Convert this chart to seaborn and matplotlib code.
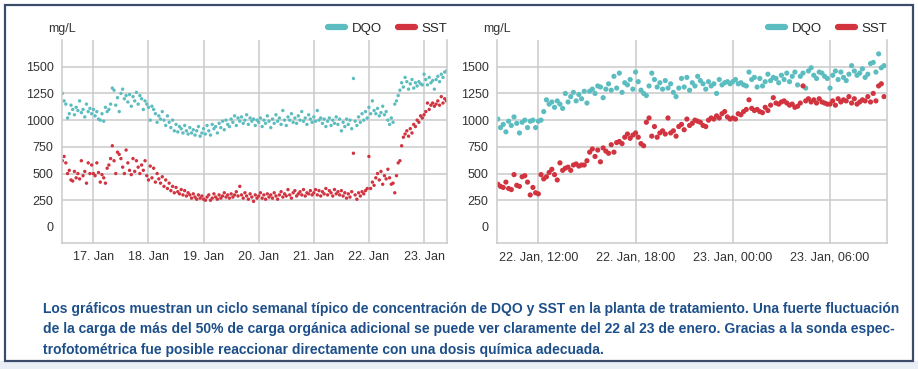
import matplotlib.pyplot as plt
import matplotlib.dates as mdates
from matplotlib.lines import Line2D
from matplotlib.patches import Rectangle
import pandas as pd
import seaborn as sns

# colours
TEAL = "#5cbdc0"
RED = "#d1333f"
GRID = "#cacaca"
TEXT = "#333333"
CAPTION = "#1d4f8a"

# Left panel: one week, one sample every 45 min starting 16 Jan 10:30
week_start = "2023-01-16 10:30"
week_dqo = [
    1250, 1180, 1150, 1020, 1060, 1140, 1100, 1050, 1120, 1090, 1180, 1070, 1100, 1030, 1150, 1080, 1110, 1060,
    # 17 Jan
    1100, 1040, 1080, 1010, 1000, 1060, 990, 1120, 1080, 1100, 1150, 1300, 1280, 1140, 1210, 1080,
    1250, 1290, 1200, 1230, 1170, 1240, 1130, 1220, 1180, 1260, 1150, 1230, 1200, 1100, 1180, 1150,
    # 18 Jan
    1120, 1000, 1130, 1100, 1060, 980, 1040, 1010, 1080, 1000, 950, 1040, 980, 930, 1000, 900,
    960, 890, 940, 920, 880, 950, 900, 870, 930, 880, 910, 860, 900, 940, 850, 880,
    # 19 Jan
    920, 870, 950, 900, 860, 960, 920, 940, 880, 970, 930, 990, 910, 1000, 960, 940,
    1010, 980, 1040, 950, 1020, 990, 1030, 970, 1000, 1050, 960, 1020, 990, 1010, 950, 1000,
    # 20 Jan
    980, 1020, 940, 1000, 970, 1040, 990, 930, 1010, 970, 1050, 990, 1020, 960, 1090, 1000,
    950, 1030, 1000, 1060, 980, 1020, 970, 1040, 1000, 1080, 990, 1020, 960, 1050, 1010, 980,
    # 21 Jan
    1030, 990, 1090, 1000, 1020, 970, 1010, 940, 990, 1020, 950, 1000, 970, 1030, 960, 1010,
    900, 980, 940, 1010, 960, 1000, 920, 1390, 990, 950, 1030, 980, 1060, 1000, 1080, 1020,
    # 22 Jan
    1120, 1060, 1180, 1090, 1060, 1110, 1040, 1070, 1130, 1050, 1080, 1000, 960, 1020, 980, 1150,
    1180, 1230, 1280, 1350, 1310, 1400, 1360, 1290, 1340, 1380, 1300, 1350, 1320, 1360, 1340, 1330,
    # 23 Jan
    1430, 1380, 1330, 1400, 1350, 1370, 1290, 1380, 1410, 1360, 1430, 1400, 1450, 1460,
]
week_sst = [
    620, 660, 600, 500, 530, 440, 430, 520, 460, 500, 450, 620, 480, 520, 410, 600, 500, 580,
    # 17 Jan
    500, 480, 600, 510, 420, 490, 460, 410, 550, 580, 640, 760, 620, 500, 700, 680,
    640, 560, 500, 720, 600, 530, 490, 640, 520, 620, 560, 500, 580, 530, 620, 480,
    # 18 Jan
    440, 570, 460, 550, 420, 500, 450, 410, 470, 380, 440, 360, 410, 340, 380, 320,
    370, 330, 310, 350, 300, 340, 290, 320, 300, 270, 310, 280, 260, 300, 270, 290,
    # 19 Jan
    260, 250, 280, 300, 250, 270, 310, 280, 260, 300, 270, 290, 320, 280, 300, 270,
    310, 280, 300, 330, 290, 380, 300, 270, 320, 290, 260, 310, 280, 240, 300, 270,
    # 20 Jan
    290, 320, 270, 300, 260, 310, 280, 300, 270, 320, 290, 260, 300, 330, 280, 310,
    290, 350, 300, 270, 320, 340, 290, 310, 330, 300, 350, 290, 320, 310, 340, 300,
    # 21 Jan
    320, 350, 300, 340, 290, 330, 310, 360, 300, 340, 320, 290, 350, 310, 330, 300,
    340, 290, 320, 270, 310, 280, 330, 690, 300, 260, 320, 290, 330, 310, 340, 360,
    # 22 Jan
    660, 360, 420, 390, 460, 500, 440, 520, 400, 480, 450, 540, 460, 400, 410, 320,
    480, 600, 620, 760, 840, 870, 900, 850, 920, 880, 960, 940, 1000, 980, 1040, 1020,
    # 23 Jan
    1050, 1080, 1160, 1100, 1140, 1160, 1130, 1150, 1180, 1140, 1220, 1160, 1200, 1180,
]

# Right panel: 24 h, one sample every 10 min starting 22 Jan 09:30
day_start = "2023-01-22 09:30"
day_dqo = [
    1010, 930, 960,
    890, 990, 950, 1030, 970, 880,
    980, 1000, 930, 990, 1000, 930,
    990, 1000, 1080, 1190, 1150, 1170,
    1120, 1180, 1150, 1110, 1250, 1170,
    1220, 1260, 1180, 1240, 1200, 1270,
    1160, 1270, 1290, 1250, 1320, 1310,
    1210, 1290, 1340, 1280, 1410, 1300,
    1440, 1260, 1350, 1330, 1380, 1290,
    1450, 1360, 1280, 1250, 1230, 1320,
    1440, 1380, 1310, 1350, 1290, 1370,
    1300, 1340, 1260, 1220, 1300, 1390,
    1310, 1400, 1280, 1350, 1320, 1410,
    1370, 1340, 1290, 1360, 1320, 1340,
    1250, 1380, 1330, 1350, 1360, 1340,
    1360, 1380, 1340, 1350, 1330, 1320,
    1450, 1380, 1400, 1310, 1390, 1320,
    1360, 1430, 1370, 1400, 1390, 1350,
    1420, 1380, 1440, 1360, 1410, 1450,
    1330, 1410, 1440, 1300, 1460, 1490,
    1420, 1390, 1450, 1440, 1410, 1390,
    1300, 1420, 1460, 1380, 1450, 1400,
    1370, 1430, 1510, 1460, 1420, 1440,
    1480, 1400, 1430, 1530, 1540, 1450,
    1620, 1490, 1510,
]
day_sst = [
    400, 380, 370,
    420, 360, 350, 490, 390, 380,
    470, 480, 420, 300, 370, 320,
    310, 490, 450, 470, 510, 540,
    490, 440, 600, 530, 550, 560,
    530, 580, 590, 570, 580, 580,
    620, 700, 730, 660, 720, 610,
    740, 710, 690, 770, 700, 790,
    800, 780, 840, 870, 830, 860,
    880, 840, 780, 760, 980, 1020,
    850, 940, 840, 880, 900, 870,
    1020, 880, 900, 850, 940, 960,
    910, 1010, 950, 970, 1000, 990,
    980, 950, 940, 1000, 1020, 1010,
    1040, 1020, 1060, 1080, 1030, 1010,
    1020, 1010, 1060, 1050, 1080, 1100,
    1190, 1110, 1090, 1100, 1080, 1070,
    1120, 1090, 1140, 1210, 1160, 1150,
    1170, 1180, 1160, 1140, 1150, 1120,
    1130, 1160, 1320, 1180, 1200, 1170,
    1190, 1160, 1200, 1170, 1160, 1150,
    1150, 1180, 1140, 1200, 1170, 1190,
    1180, 1220, 1160, 1200, 1150, 1170,
    1190, 1180, 1220, 1170, 1250, 1180,
    1320, 1340, 1220,
]

caption_lines = [
    "Los gráficos muestran un ciclo semanal típico de concentración de DQO y SST en la planta de tratamiento. Una fuerte fluctuación",
    "de la carga de más del 50% de carga orgánica adicional se puede ver claramente del 22 al 23 de enero. Gracias a la sonda espec-",
    "trofotométrica fue posible reaccionar directamente con una dosis química adecuada.",
]


def long_frame(start, freq, dqo, sst):
    t = pd.date_range(start, periods=len(dqo), freq=freq)
    a = pd.DataFrame({"time": t, "value": dqo, "serie": "DQO"})
    b = pd.DataFrame({"time": t, "value": sst, "serie": "SST"})
    return pd.concat([a, b], ignore_index=True)


week = long_frame(week_start, "45min", week_dqo, week_sst)
day = long_frame(day_start, "10min", day_dqo, day_sst)

sns.set_style("white")
plt.rcParams["font.family"] = ["Liberation Sans", "DejaVu Sans"]

W, H = 918, 369
fig = plt.figure(figsize=(W / 100, H / 100), dpi=100)
fig.patch.set_facecolor("white")

# frame around the whole figure and the caption (drawn behind the axes)
fig.patches.append(Rectangle((0, 0), 1, 8 / H, transform=fig.transFigure,
                             facecolor="#eaeff6", edgecolor="none", zorder=-2))
fig.patches.append(Rectangle((5 / W, 1 - 361 / H), 908 / W, 356 / H, transform=fig.transFigure,
                             facecolor="none", edgecolor="#3c4b6a", lw=1.6, zorder=-1))


def px_axes(x0, x1, y0, y1):
    return fig.add_axes([x0 / W, 1 - y1 / H, (x1 - x0) / W, (y1 - y0) / H])


ax1 = px_axes(62, 447, 40, 243)
ax2 = px_axes(497, 887, 40, 243)

palette = {"DQO": TEAL, "SST": RED}
sns.scatterplot(data=week, x="time", y="value", hue="serie", palette=palette,
                s=6, linewidth=0, legend=False, ax=ax1)
sns.scatterplot(data=day, x="time", y="value", hue="serie", palette=palette,
                s=14, linewidth=0, legend=False, ax=ax2)

ax1.set_xlim(pd.Timestamp("2023-01-16 10:20"), pd.Timestamp("2023-01-23 10:00"))
ax1.xaxis.set_major_locator(mdates.DayLocator())
ax1.xaxis.set_major_formatter(mdates.DateFormatter("%d. %b"))

ax2.set_xlim(pd.Timestamp("2023-01-22 09:27"), pd.Timestamp("2023-01-23 09:31"))
ax2.xaxis.set_major_locator(mdates.HourLocator(byhour=[0, 6, 12, 18]))
ax2.xaxis.set_major_formatter(mdates.DateFormatter("%d. %b, %H:%M"))

for ax in (ax1, ax2):
    ax.set_facecolor("none")
    ax.set_ylim(-150, 1750)
    ax.set_yticks([0, 250, 500, 750, 1000, 1250, 1500])
    ax.set_xlabel("")
    ax.set_ylabel("")
    ax.grid(True, color=GRID, lw=1.1)
    ax.set_axisbelow(True)
    ax.tick_params(length=0, labelsize=9, labelcolor=TEXT, pad=6)
    for side in ("left", "bottom", "right"):
        ax.spines[side].set_color(GRID)
        ax.spines[side].set_linewidth(1.1)
    ax.spines["top"].set_visible(False)
    fig.canvas.draw()
    ax.yaxis.get_gridlines()[0].set_visible(False)
    ax.text(-0.035, 1.055, "mg/L", transform=ax.transAxes, fontsize=9,
            color=TEXT, ha="left", va="center")
    handles = [Line2D([], [], color=TEAL, lw=4.5, solid_capstyle="round"),
               Line2D([], [], color=RED, lw=4.5, solid_capstyle="round")]
    ax.legend(handles, ["DQO", "SST"], loc="center right", bbox_to_anchor=(1.0, 1.055),
              ncol=2, frameon=False, fontsize=9.5, handlelength=1.3, handletextpad=0.5,
              columnspacing=1.2, borderaxespad=0, borderpad=0)

for i, line in enumerate(caption_lines):
    fig.text(43 / W, 1 - (309 + 20.5 * i) / H, line, fontsize=10, fontweight="bold",
             color=CAPTION, ha="left", va="center",
             family=["Liberation Sans Narrow", "Liberation Sans"])

fig.savefig("out.png", dpi=100)
